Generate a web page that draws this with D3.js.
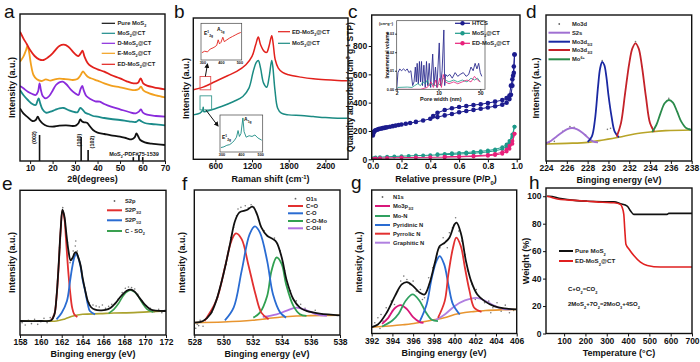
<!DOCTYPE html>
<html><head><meta charset="utf-8">
<script src="https://cdn.jsdelivr.net/npm/d3@7"></script>
<style>
body{margin:0;background:#fff}
svg{font-family:"Liberation Sans",Arial,sans-serif}
</style></head><body>
<svg id="fig" width="700" height="362"></svg>
<script>
// ---------- data (a) XRD ----------
const xrdPure = [[5.5,175],[7,160],[9,148],[11,137],[12.5,140],[13.4,150],[14.2,140],[15.5,130],[17.5,122],[20,120],[23,123],[26,124],[29,122],[30.5,124],[31.5,130],[32.3,142],[33,136],[34,133],[35.3,132],[36.5,122],[38,110],[40,102],[43,98],[46,94],[50,90],[53,85],[55,82],[56.5,88],[57.3,100],[58,92],[59,80],[61,73],[64,69],[67,67],[70,65]];
const xrdMoCT = [[5.5,230],[7,215],[9,200],[11,188],[12.5,185],[13.3,198],[13.8,205],[14.5,190],[15.5,172],[17,162],[19,165],[21,170],[23,175],[25,176],[27,170],[29,165],[31,163],[32.3,176],[33.2,172],[34.5,162],[36,158],[38,152],[40,150],[43,146],[46,143],[50,140],[54,136],[57,134],[58.5,140],[59.5,136],[61,131],[64,128],[67,126],[70,124]];
const xrdD = [[5.5,242],[7,235],[9,225],[11,218],[12.5,215],[13.5,225],[14.2,250],[14.8,230],[15.6,212],[17,205],[18.5,212],[20,228],[21.5,245],[23,253],[24.5,255],[26,248],[28,232],[30,220],[31.5,215],[32.4,232],[33.2,242],[33.9,228],[35,212],[37,202],[39,196],[41,195],[43,188],[46,180],[50,172],[54,164],[57,160],[58.5,166],[59.3,172],[60.2,162],[62,156],[66,152],[70,150]];
const xrdE = [[5.5,315],[7,330],[8.2,350],[8.8,362],[9.5,345],[10.3,310],[11.5,275],[13,262],[15,257],[17,262],[19,258],[21,262],[23,264],[25,263],[27,262],[29,260],[31,263],[32.5,275],[33.5,286],[34.5,278],[36,268],[38,263],[40,258],[43,250],[46,243],[50,238],[54,232],[57,230],[58.5,234],[59.3,240],[60.5,228],[63,220],[66,214],[70,208]];
const xrdED = [[5.5,405],[7,385],[8.5,368],[10,350],[12,332],[14,322],[16,320],[18,328],[20,340],[21.5,352],[23,362],[25,366],[27,360],[29,345],[30.5,335],[31.5,332],[32.5,340],[33.3,348],[34.2,330],[35.5,312],[37,302],[40,292],[43,285],[46,275],[50,265],[53,256],[56,250],[58,252],[59.2,265],[60.3,250],[62,243],[65,238],[70,232]];
const refPos = [14.2, 32.7, 35.8, 55.9, 58.4, 60.1];
const refInt = [100, 92, 42, 15, 23, 15];
const xrdNames = ['Pure MoS_{2}','MoS_{2}@CT','D-MoS_{2}@CT','E-MoS_{2}@CT','ED-MoS_{2}@CT'];

// ---------- data (b) Raman ----------
const ramanED = [[240,230],[400,238],[600,255],[800,272],[950,285],[1100,305],[1200,330],[1260,365],[1303,388],[1340,365],[1400,345],[1440,342],[1480,362],[1522,392],[1545,370],[1580,320],[1630,295],[1700,282],[1800,275],[2000,268],[2200,263],[2400,260],[2600,258],[2760,257]];
const ramanMo = [[240,155],[350,160],[395,170],[403,178],[412,165],[500,168],[700,180],[900,195],[1050,210],[1150,235],[1220,285],[1270,312],[1303,318],[1340,295],[1390,250],[1440,238],[1480,268],[1522,318],[1540,300],[1575,230],[1620,175],[1680,160],[1800,155],[2000,153],[2200,150],[2400,147],[2600,145],[2760,145]];
const insetRed = [[295,20],[310,24],[325,22],[340,30],[355,33],[365,36],[375,40],[383,55],[390,44],[398,48],[408,62],[416,50],[430,55],[445,60],[460,64],[475,68],[490,72],[505,75]];
const insetTeal = [[295,12],[310,14],[325,18],[340,20],[355,26],[365,32],[375,40],[383,58],[390,42],[398,50],[408,92],[414,55],[425,40],[440,44],[455,42],[470,46],[485,38],[505,32]];

// ---------- data (c) BET ----------
const htcsAds = [[0.001,168],[0.003,180],[0.006,190],[0.01,196],[0.015,201],[0.02,205],[0.03,209],[0.04,213],[0.05,216],[0.06,218],[0.07,220],[0.08,222],[0.09,224],[0.1,226],[0.12,230],[0.14,234],[0.16,238],[0.18,242],[0.2,246],[0.23,251],[0.26,256],[0.3,264],[0.35,274],[0.4,286],[0.45,298],[0.5,310],[0.55,320],[0.6,332],[0.65,341],[0.7,349],[0.75,357],[0.8,366],[0.85,375],[0.9,386],[0.93,400],[0.95,425],[0.96,455],[0.97,520],[0.98,610],[0.985,740]];
const htcsDes = [[0.985,740],[0.98,655],[0.975,590],[0.97,565],[0.96,520],[0.95,450],[0.93,432],[0.9,418],[0.85,407],[0.8,397],[0.75,389],[0.7,383],[0.65,376],[0.6,369],[0.55,360],[0.5,348],[0.45,328],[0.42,305]];
const moAds = [[0.005,8],[0.02,12],[0.05,15],[0.1,18],[0.15,20],[0.2,22],[0.25,24],[0.3,26],[0.35,27],[0.4,29],[0.45,31],[0.5,33],[0.55,35],[0.6,37],[0.65,40],[0.7,43],[0.75,47],[0.8,52],[0.85,60],[0.9,72],[0.93,90],[0.95,115],[0.97,160],[0.985,230]];
const moDes = [[0.985,230],[0.97,175],[0.95,130],[0.93,105],[0.9,85],[0.85,70],[0.8,62],[0.75,56],[0.7,52],[0.65,48],[0.6,45],[0.55,42],[0.5,38],[0.45,35]];
const edAds = [[0.005,3],[0.02,6],[0.05,8],[0.1,10],[0.2,12],[0.3,13],[0.4,14],[0.5,15],[0.6,17],[0.7,20],[0.8,25],[0.85,30],[0.9,40],[0.93,55],[0.95,75],[0.97,110],[0.985,180]];
const edDes = [[0.985,180],[0.97,130],[0.95,95],[0.93,70],[0.9,50],[0.85,38],[0.8,30],[0.7,24],[0.6,20],[0.5,18]];
const poreHTCS = [[2.0,0.000],[2.1,0.009],[2.25,0.011],[2.4,0.010],[2.6,0.011],[2.8,0.010],[3.0,0.011],[3.2,0.009],[3.45,0.010],[3.7,0.002],[3.9,0.004],[4.1,0.012],[4.25,0.004],[4.4,0.014],[4.6,0.003],[4.8,0.015],[5.0,0.004],[5.2,0.015],[5.4,0.002],[5.7,0.013],[6.0,0.001],[6.3,0.015],[6.6,0.002],[7.0,0.014],[7.4,0.001],[8.0,0.019],[8.4,0.002],[8.9,0.012],[9.4,0.001],[10.3,0.025],[10.8,0.002],[11.5,0.010],[12.3,0.032],[12.7,0.002],[13.2,0.008],[14,0.007],[15.5,0.008],[17,0.006],[19,0.009],[21,0.007],[23,0.008],[26,0.009],[29,0.007],[32,0.008],[35,0.012],[38,0.010],[41,0.014],[44,0.011],[47,0.014],[50,0.009],[53,0.007]];
const poreMo = [[2.0,0.000],[2.1,0.001],[3.0,0.0012],[3.6,0.001],[4.0,0.002],[4.5,0.003],[5.0,0.002],[5.5,0.004],[6.0,0.003],[6.5,0.005],[7.0,0.002],[8.0,0.003],[9.0,0.002],[10.0,0.003],[11.0,0.002],[12.0,0.006],[13,0.005],[15,0.004],[18,0.005],[21,0.004],[25,0.005],[30,0.004],[35,0.006],[40,0.005],[45,0.006],[50,0.004]];
const poreED = [[2.0,0],[3,0.0],[5,0.0],[6.5,0.001],[7.5,0.004],[8.2,0.001],[9.0,0.005],[9.6,0.001],[10.5,0.006],[11.2,0.001],[12.0,0.008],[13,0.004],[15,0.003],[18,0.004],[21,0.003],[25,0.004],[30,0.005],[35,0.004],[40,0.007],[45,0.005],[50,0.004]];

// ---------- data (d) Mo 3d ----------
const dBase = [[224,68],[226,70],[228,73],[229.5,80],[231,88],[232.5,98],[234,104],[235.5,108],[238,110]];
const dS2s = [[224,70],[224.5,78],[225,90],[225.5,102],[226,112],[226.5,116],[227,112],[227.5,102],[228,88],[228.5,76],[229,73]];
const dMo52 = [[228,74],[228.4,90],[228.7,140],[229,240],[229.2,295],[229.4,314],[229.6,305],[229.8,270],[230,215],[230.3,150],[230.6,105],[231,88]];
const dMo32 = [[230.8,90],[231.2,130],[231.6,220],[232,310],[232.3,355],[232.6,370],[232.9,355],[233.2,305],[233.6,210],[234,130],[234.4,105]];
const dMo6 = [[234.2,104],[234.6,125],[235,160],[235.4,190],[235.8,200],[236.2,192],[236.6,165],[237,135],[237.5,115],[238,110]];
const dDots = [[224.3,72],[224.8,76],[225.6,106],[226.3,120],[226.7,118],[227.8,95],[228.2,82],[229.4,318],[229.9,112],[230.2,115],[232.6,375],[234.2,118],[235.8,205],[237.8,113]];

// ---------- data (e) S 2p ----------
const eBase = [[158,80],[160,80],[161.5,80],[162.3,86],[163.1,95],[164,100],[165.7,102],[167,104],[168.9,105],[170.5,108],[172,110]];
const eS32 = [[161,82],[161.3,100],[161.5,150],[161.7,240],[161.9,350],[162.07,412],[162.25,390],[162.4,330],[162.6,240],[162.8,170],[163.0,120],[163.2,100],[163.5,92]];
const eS12 = [[161.5,85],[162.0,105],[162.5,140],[162.8,200],[163.0,240],[163.2,270],[163.38,282],[163.55,272],[163.8,245],[164.0,205],[164.25,170],[164.5,130],[164.7,110],[165.2,100]];
const eCSO = [[166.5,103],[167,115],[167.5,135],[168,160],[168.6,172],[169.2,160],[169.7,135],[170.2,115],[170.8,106]];
const eFit = [[158,80],[160,80],[161,82],[161.3,100],[161.5,152],[161.7,245],[161.9,355],[162.07,414],[162.25,395],[162.45,340],[162.65,290],[162.85,262],[163.05,270],[163.25,284],[163.4,286],[163.6,270],[163.8,248],[164.0,210],[164.25,172],[164.5,140],[164.8,122],[165.2,114],[165.7,112],[166.2,113],[166.7,120],[167.2,135],[167.7,155],[168.2,170],[168.6,174],[169.0,168],[169.5,148],[170,128],[170.5,115],[171,111],[172,110]];
const eDots = [[158.2,75],[158.5,68],[158.8,82],[159.1,72],[159.4,85],[159.7,70],[160,78],[160.3,88],[160.6,75],[160.9,90],[161.2,95],[161.6,200],[161.8,300],[162.0,405],[162.1,420],[162.3,380],[162.55,315],[162.8,255],[163.1,290],[163.3,305],[163.35,320],[163.5,290],[163.9,230],[164.2,180],[164.6,135],[165,128],[165.3,125],[165.6,122],[165.9,128],[166.2,118],[166.5,124],[166.8,130],[167.1,132],[167.4,145],[167.8,165],[168.1,178],[168.4,182],[168.7,180],[169,176],[169.3,160],[169.7,140],[170.1,125],[170.5,118],[170.9,108],[171.3,115],[171.6,105],[171.9,112]];

// ---------- data (f) O 1s ----------
const fBase = [[528,75],[530,77],[532,82],[533,87],[534,92],[535,95],[536,96],[538,97]];
const fCO2 = [[528.7,80],[529.5,140],[530.1,240],[530.55,320],[530.86,342],[531.25,325],[531.7,250],[532.2,160],[532.6,105],[533.1,85]];
const fCO = [[530.1,82],[530.7,120],[531.25,230],[531.8,340],[532.16,363],[532.5,345],[533,260],[533.4,160],[533.9,105],[534.3,90]];
const fCOMo = [[532.05,90],[532.5,105],[533,155],[533.3,230],[533.65,270],[534,250],[534.3,190],[534.8,125],[535.25,100],[535.7,95]];
const fCOH = [[532.7,92],[533.65,100],[534.3,110],[535,120],[535.7,112],[536.4,100],[537.1,95]];
const fFit = [[528,75],[528.6,80],[529.1,100],[529.5,140],[530,220],[530.45,310],[530.8,380],[531.1,405],[531.6,412],[532,422],[532.3,400],[532.6,360],[533,335],[533.4,325],[533.65,315],[534,270],[534.35,200],[534.8,145],[535.25,120],[535.7,110],[536.6,102],[538,97]];
const fDots = [[528.1,58],[528.2,70],[528.3,66],[528.4,82],[528.6,64],[528.9,90],[529.2,105],[529.6,150],[529.9,200],[530.2,250],[530.5,330],[530.7,360],[530.9,395],[531.0,415],[531.2,420],[531.4,410],[531.5,425],[531.7,418],[531.9,428],[532.1,420],[532.4,385],[532.8,350],[533.2,330],[533.5,328],[533.9,290],[534.2,230],[534.6,170],[535,140],[535.3,130],[535.6,118],[536,108],[536.3,112],[536.8,100],[537.3,98],[537.8,96]];

// ---------- data (g) N 1s ----------
const gBase = [[392,62],[393,64],[394,66],[395,69],[395.85,72],[397,78],[398,84],[399,90],[400,100],[401,106],[401.6,108],[403,112],[404.5,114],[406,115]];
const gMo3p = [[393,72],[393.6,90],[394.2,118],[394.8,128],[395.4,116],[396,92],[396.6,78],[397,75]];
const gMoN = [[393,64],[394,82],[394.6,102],[395.3,142],[395.95,160],[396.6,142],[397.2,108],[397.8,84],[398.4,80]];
const gPyd = [[396.65,80],[397.3,130],[397.8,210],[398.25,260],[398.57,275],[399,250],[399.4,190],[399.85,130],[400.5,100]];
const gPyr = [[398.4,90],[399.05,140],[399.4,220],[399.85,300],[400.17,330],[400.6,305],[401,240],[401.45,170],[401.9,120],[402.6,108]];
const gGra = [[398.1,82],[399.05,100],[400,125],[401,142],[402.1,150],[402.9,142],[403.7,128],[404.65,117],[405.5,115]];
const gFit = [[392,62],[392.6,70],[393.44,105],[394.24,155],[394.9,190],[395.4,197],[396,185],[396.65,165],[397.1,160],[397.6,195],[398.1,255],[398.57,305],[399.05,315],[399.5,330],[400,370],[400.2,375],[400.64,340],[401.1,260],[401.6,200],[402.2,160],[402.9,140],[403.8,125],[404.8,118],[406,115]];
const gDots = [[392.3,75],[392.6,90],[392.8,58],[392.9,100],[393.1,80],[393.3,70],[393.4,120],[393.7,95],[393.9,140],[394.0,110],[394.2,130],[394.5,170],[394.8,200],[395.1,215],[395.4,205],[395.7,190],[396,200],[396.3,170],[396.7,175],[396.9,145],[397.1,150],[397.5,210],[397.9,240],[398.3,280],[398.6,300],[398.9,330],[399.2,320],[399.3,300],[399.5,345],[399.8,360],[400.1,390],[400.4,350],[400.7,320],[401,280],[401.3,230],[401.7,190],[402.0,145],[402.1,175],[402.5,150],[402.9,135],[403.3,140],[403.5,105],[403.7,120],[404.1,135],[404.5,110],[404.9,128],[405.3,105],[405.7,112]];

// ---------- data (h) TGA ----------
const tgaPure = [[20,100],[30,100],[84,98.3],[150,97],[209,96.4],[280,96],[334,95.9],[365,94.5],[396,92.8],[412,89.2],[427,86.8],[505,86.8],[583,86.8],[591,87.5],[700,87.5]];
const tgaED = [[20,100],[30,99.6],[84,97.6],[150,97],[209,96.4],[280,95.6],[334,95.2],[365,94],[373,91.6],[380,86.8],[385,74.8],[390,65],[404,61.6],[427,56.8],[458,52],[490,49.6],[552,48.4],[700,48.4]];

// ---------- helpers ----------
const svg = d3.select('#fig');
let clipN = 0;
const TICK_FS = 8.5, TITLE_FS = 9;

function rich(sel, str) {
  str.split(/(_\{[^}]*\}|\^\{[^}]*\})/).forEach(p => {
    if (!p) return;
    if (p.startsWith('_{')) sel.append('tspan').attr('baseline-shift', 'sub').attr('font-size', '65%').text(p.slice(2, -1));
    else if (p.startsWith('^{')) sel.append('tspan').attr('baseline-shift', 'super').attr('font-size', '65%').text(p.slice(2, -1));
    else sel.append('tspan').text(p);
  });
  return sel;
}

function makePanel(box, xd, yd, log) {
  const [x0, y0, x1, y1] = box;
  const x = (log ? d3.scaleLog() : d3.scaleLinear()).domain(xd).range([x0, x1]);
  const y = d3.scaleLinear().domain(yd).range([y1, y0]);
  const id = 'clip' + (clipN++);
  svg.append('clipPath').attr('id', id).append('rect')
    .attr('x', x0).attr('y', y0).attr('width', x1 - x0).attr('height', y1 - y0);
  const g = svg.append('g');
  const plot = g.append('g').attr('clip-path', `url(#${id})`);
  return {x, y, g, plot, box};
}

function styleAxis(ax, fs) {
  ax.select('.domain').remove();
  ax.attr('font-family', null).attr('font-size', null);
  ax.selectAll('text').attr('font-size', fs).attr('font-weight', 'bold').attr('fill', '#111');
  ax.selectAll('line').attr('stroke', '#111');
}

function axes(p, xTicks, yTicks, fmtX, fmtY) {
  const [x0, y0, x1, y1] = p.box;
  const ax = p.g.append('g').attr('transform', `translate(0,${y1})`)
    .call(d3.axisBottom(p.x).tickValues(xTicks).tickSize(3).tickPadding(1).tickFormat(fmtX || (d => d)));
  styleAxis(ax, TICK_FS);
  if (yTicks) {
    const ay = p.g.append('g').attr('transform', `translate(${x0},0)`)
      .call(d3.axisLeft(p.y).tickValues(yTicks).tickSize(3).tickPadding(1.5).tickFormat(fmtY || (d => d)));
    styleAxis(ay, TICK_FS);
  }
  p.g.append('rect').attr('x', x0).attr('y', y0).attr('width', x1 - x0).attr('height', y1 - y0)
    .attr('fill', 'none').attr('stroke', '#111').attr('stroke-width', 1.4);
}

function line(p, data, color, w, crv) {
  return p.plot.append('path').datum(data)
    .attr('fill', 'none').attr('stroke', color).attr('stroke-width', w)
    .attr('stroke-linejoin', 'round')
    .attr('d', d3.line().x(d => p.x(d[0])).y(d => p.y(d[1])).curve(crv || d3.curveCatmullRom.alpha(0.5)));
}

function dots(p, data, color, r) {
  p.plot.append('g').selectAll('circle').data(data).join('circle')
    .attr('cx', d => p.x(d[0])).attr('cy', d => p.y(d[1])).attr('r', r).attr('fill', color);
}

function legend(items, lx0, lx1, tx, ys, fs) {
  const g = svg.append('g');
  items.forEach((it, i) => {
    const y = ys[i];
    if (it.dot) {
      g.append('circle').attr('cx', (lx0 + lx1) / 2).attr('cy', y).attr('r', 0.9).attr('fill', '#666');
    } else {
      g.append('line').attr('x1', lx0).attr('x2', lx1).attr('y1', y).attr('y2', y)
        .attr('stroke', it.c).attr('stroke-width', it.w || 2);
      if (it.m) g.append('circle').attr('cx', (lx0 + lx1) / 2).attr('cy', y).attr('r', 2.2).attr('fill', it.c);
    }
    rich(g.append('text').attr('x', tx).attr('y', y + fs * 0.35).attr('font-size', fs)
      .attr('font-weight', 'bold').attr('fill', '#222'), it.t);
  });
}

function text(x, y, str, fs, opts = {}) {
  const t = svg.append('text').attr('x', x).attr('y', y).attr('font-size', fs)
    .attr('font-weight', opts.weight || 'bold').attr('fill', opts.fill || '#111')
    .attr('text-anchor', opts.anchor || 'middle');
  if (opts.rot) t.attr('transform', `rotate(${opts.rot},${x},${y})`);
  return rich(t, str);
}

function letter(x, y, s) {
  svg.append('text').attr('x', x).attr('y', y).attr('font-size', 19).attr('fill', '#111').text(s);
}

const steps = (a, b, s) => d3.range(a, b + s / 2, s);

// ---------- (a) ----------
const pa = makePanel([20, 14, 165, 161], [5.5, 70], [17, 458]);
const refY = d3.scaleLinear().domain([0, 100]).range([161, 135]);
pa.plot.append('g').selectAll('line').data(refPos.map((p, i) => [p, refInt[i]])).join('line')
  .attr('x1', d => pa.x(d[0])).attr('x2', d => pa.x(d[0]))
  .attr('y1', refY(0)).attr('y2', d => refY(d[1])).attr('stroke', '#111').attr('stroke-width', 1.6);
line(pa, xrdPure, '#111', 1.8);
line(pa, xrdMoCT, '#1b8b8a', 1.8);
line(pa, xrdD, '#8a2bdc', 1.8);
line(pa, xrdE, '#f2a01e', 1.8);
line(pa, xrdED, '#e2211c', 1.8);
axes(pa, steps(10, 70, 10));
text(36, 137.5, '(002)', 5.5, {rot: -90});
text(80.5, 140, '(100)', 5.5, {rot: -90});
text(94, 142, '(102)', 5.5, {rot: -90});
text(134, 155.5, 'MoS_{2}-PDF#75-1539', 5.5);
legend(xrdNames.map((t, i) => ({t, c: ['#111', '#1b8b8a', '#8a2bdc', '#f2a01e', '#e2211c'][i], w: 1.2})),
  101.7, 115, 117.5, [23.3, 33.3, 43.3, 53.3, 64.3], 5.8);
text(15, 87.5, 'Intensity (a.u.)', TITLE_FS, {rot: -90});
text(92.5, 182, '2θ(degrees)', TITLE_FS);
letter(4, 18, 'a');

// ---------- (b) ----------
const pb = makePanel([193.3, 18, 348, 159.3], [240, 2770], [22, 445]);
line(pb, ramanED, '#e2211c', 1.5);
line(pb, ramanMo, '#1b8b83', 1.5);
const boxes = [[350, 525, 230, 270, '#e05050'], [350, 540, 170, 212, '#3a9a90']];
boxes.forEach(b => pb.plot.append('rect').attr('x', pb.x(b[0])).attr('y', pb.y(b[3]))
  .attr('width', pb.x(b[1]) - pb.x(b[0])).attr('height', pb.y(b[2]) - pb.y(b[3]))
  .attr('fill', 'none').attr('stroke', b[4]).attr('stroke-width', 0.9));
svg.append('defs').append('marker').attr('id', 'arr').attr('viewBox', '0 0 10 10').attr('refX', 8).attr('refY', 5)
  .attr('markerWidth', 5).attr('markerHeight', 5).attr('orient', 'auto')
  .append('path').attr('d', 'M0,0L10,5L0,10z').attr('fill', '#111');
svg.append('line').attr('x1', pb.x(437)).attr('y1', pb.y(270)).attr('x2', 207.5).attr('y2', 64)
  .attr('stroke', '#111').attr('stroke-width', 1).attr('marker-end', 'url(#arr)');
svg.append('line').attr('x1', pb.x(445)).attr('y1', pb.y(170)).attr('x2', 218).attr('y2', 126)
  .attr('stroke', '#111').attr('stroke-width', 1).attr('marker-end', 'url(#arr)');

function ramanInset(box, data, color, eLab, aLab) {
  const p = makePanel(box, [290, 510], [0, 100]);
  p.g.insert('rect', ':first-child').attr('x', box[0]).attr('y', box[1])
    .attr('width', box[2] - box[0]).attr('height', box[3] - box[1]).attr('fill', '#fff');
  line(p, data, color, 0.9, d3.curveLinear);
  p.g.append('rect').attr('x', box[0]).attr('y', box[1]).attr('width', box[2] - box[0]).attr('height', box[3] - box[1])
    .attr('fill', 'none').attr('stroke', '#444').attr('stroke-width', 0.7);
  [300, 400, 500].forEach(v => text(p.x(v), box[3] + 4.2, String(v), 3.8));
  text(eLab[0], eLab[1], 'E^{1}_{2g}', 5, {anchor: 'start'});
  text(aLab[0], aLab[1], 'A_{1g}', 5, {anchor: 'start'});
}
ramanInset([201, 23.3, 241.7, 60], insetRed, '#e2211c', [204, 35], [217, 31]);
ramanInset([220, 115, 262.7, 152], insetTeal, '#1b8b83', [222, 139], [244, 121]);
axes(pb, [600, 1200, 1800, 2400]);
legend([{t: 'ED-MoS_{2}@CT', c: '#e2211c', w: 1.2}, {t: 'MoS_{2}@CT', c: '#1b8b83', w: 1.2}],
  278, 290, 292, [31.7, 43.3], 5.8);
text(188.5, 88.5, 'Intensity (a.u.)', TITLE_FS, {rot: -90});
text(270.5, 182, 'Raman shift (cm^{-1})', TITLE_FS);
letter(174, 18, 'b');

// ---------- (c) ----------
const pc = makePanel([371.7, 15, 520, 159.3], [-0.007, 1.023], [0, 1019]);
function iso(data, color, r) {
  line(pc, data, color, 1, d3.curveLinear);
  dots(pc, data, color, r);
}
iso(htcsAds, '#1c1c8e', 2.3); iso(htcsDes, '#1c1c8e', 2.3);
iso(moAds, '#1e9a8a', 2); iso(moDes, '#1e9a8a', 2);
iso(edAds, '#e8207a', 2); iso(edDes, '#e8207a', 2);
axes(pc, steps(0, 1, 0.2), [0, 200, 400, 600, 800], d3.format('.1f'));
// inset: pore size distribution
const pi = makePanel([396.7, 20.7, 485, 89.3], [2, 60], [0, 0.037], true);
pi.g.insert('rect', ':first-child').attr('x', 396.7).attr('y', 20.7).attr('width', 88.3).attr('height', 68.6).attr('fill', '#fff');
line(pi, poreHTCS, '#2e2e90', 0.9, d3.curveLinear);
line(pi, poreMo, '#1e9a8a', 0.8, d3.curveLinear);
line(pi, poreED, '#e8207a', 0.8, d3.curveLinear);
pi.g.append('rect').attr('x', 396.7).attr('y', 20.7).attr('width', 88.3).attr('height', 68.6)
  .attr('fill', 'none').attr('stroke', '#444').attr('stroke-width', 0.7);
const iax = pi.g.append('g').attr('transform', 'translate(0,89.3)')
  .call(d3.axisBottom(pi.x).tickValues([2, 10, 50]).tickSize(1.5).tickPadding(1).tickFormat(d => d));
styleAxis(iax, 5);
const iay = pi.g.append('g').attr('transform', 'translate(396.7,0)')
  .call(d3.axisLeft(pi.y).tickValues([0, 0.01, 0.02, 0.03]).tickSize(1.5).tickPadding(1).tickFormat(d3.format('.2f')));
styleAxis(iay, 3.8);
text(440.8, 101, 'Pore width (nm)', 5.5);
text(388.5, 55, 'Incremental volume', 5, {rot: -90});
text(386, 25, '(cm^{3}g^{-1})', 3.8);
legend([{t: 'HTCS', c: '#1c1c8e', m: 1, w: 1.2}, {t: 'MoS_{2}@CT', c: '#1e9a8a', m: 1, w: 1.2}, {t: 'ED-MoS_{2}@CT', c: '#e8207a', m: 1, w: 1.2}],
  455, 470, 472, [23.3, 33.3, 43.3], 5.8);
text(353, 87, 'Quantity adsorbed (cm^{3} g^{-1} STP)', 8.5, {rot: -90});
text(446, 182, 'Relative pressure (P/P_{0})', TITLE_FS);
letter(348, 18, 'c');

// ---------- (d) ----------
const pd = makePanel([546, 15, 691.7, 161], [224, 238], [17, 455]);
dots(pd, dDots, '#777', 0.8);
line(pd, dBase, '#b8a428', 1.6);
line(pd, dS2s, '#a070d2', 1.8);
line(pd, dMo52, '#1a28a2', 1.8);
line(pd, dMo32, '#c42229', 1.8);
line(pd, dMo6, '#2a8a4a', 1.8);
axes(pd, steps(224, 238, 2));
legend([{t: 'Mo3d', dot: 1}, {t: 'S2s', c: '#a070d2'}, {t: 'Mo3d_{5/2}', c: '#1a28a2'}, {t: 'Mo3d_{3/2}', c: '#c42229'}, {t: 'Mo^{6+}', c: '#2a8a4a'}],
  548.5, 570, 572, [24, 32.7, 41.7, 50, 59.3], 5.8);
text(538.5, 88, 'Intensity (a.u.)', TITLE_FS, {rot: -90});
text(619, 182.5, 'Binging energy (eV)', TITLE_FS);
letter(526, 18, 'd');

// ---------- (e) ----------
const pe = makePanel([20, 190.3, 166, 335], [158, 172], [38, 472]);
dots(pe, eDots, '#777', 0.8);
line(pe, eBase, '#aaa22e', 1.6);
line(pe, eCSO, '#3aa050', 1.6);
line(pe, eS32, '#e23030', 1.8);
line(pe, eS12, '#2a6cd2', 1.8);
line(pe, eFit, '#111', 1.8);
axes(pe, steps(158, 172, 2));
legend([{t: 'S2p', dot: 1}, {t: 'S2P_{3/2}', c: '#e23030'}, {t: 'S2P_{1/2}', c: '#2a6cd2'}, {t: 'C - SO_{2}', c: '#3aa050'}],
  107, 122, 125, [201, 210.3, 220.3, 231], 5.8);
text(15, 262.5, 'Intensity (a.u.)', TITLE_FS, {rot: -90});
text(93, 356.5, 'Binging energy (eV)', TITLE_FS);
letter(2, 190, 'e');

// ---------- (f) ----------
const pf = makePanel([194.3, 190, 340, 335], [528, 538], [38, 472]);
dots(pf, fDots, '#777', 0.8);
line(pf, fBase, '#e89530', 1.6);
line(pf, fCOH, '#b070e0', 1.8);
line(pf, fCOMo, '#30a050', 1.8);
line(pf, fCO2, '#e23030', 1.8);
line(pf, fCO, '#2a6cd2', 1.8);
line(pf, fFit, '#111', 1.8);
axes(pf, steps(528, 538, 2));
legend([{t: 'O1s', dot: 1}, {t: 'C=O', c: '#e23030'}, {t: 'C-O', c: '#2a6cd2'}, {t: 'C-O-Mo', c: '#30a050'}, {t: 'C-OH', c: '#b070e0'}],
  288, 303, 306, [198.7, 206, 213.3, 221, 228.3], 5.8);
text(185, 262.5, 'Intensity (a.u.)', TITLE_FS, {rot: -90});
text(267, 356.5, 'Binging energy (eV)', TITLE_FS);
letter(182, 190, 'f');

// ---------- (g) ----------
const pg = makePanel([371.7, 190, 516.7, 333.5], [392, 406], [43, 473]);
dots(pg, gDots, '#777', 0.8);
line(pg, gBase, '#e89530', 1.6);
line(pg, gGra, '#b080e0', 1.8);
line(pg, gMo3p, '#d8187a', 1.8);
line(pg, gMoN, '#30a060', 1.8);
line(pg, gPyd, '#2a6cd2', 1.8);
line(pg, gPyr, '#e23030', 1.8);
line(pg, gFit, '#111', 1.8);
axes(pg, steps(392, 406, 2));
legend([{t: 'N1s', dot: 1}, {t: 'Mo3p_{3/2}', c: '#d8187a'}, {t: 'Mo-N', c: '#30a060'}, {t: 'Pyridinic N', c: '#2a6cd2'}, {t: 'Pyrrolic N', c: '#e23030'}, {t: 'Graphitic N', c: '#b080e0'}],
  375, 390, 393, [197, 206, 216, 225, 233.7, 242.7], 5.8);
text(361.5, 262, 'Intensity (a.u.)', TITLE_FS, {rot: -90});
text(444, 355.5, 'Binging energy (eV)', TITLE_FS);
letter(351, 189, 'g');

// ---------- (h) ----------
const ph = makePanel([546, 188, 692, 333.5], [15, 700], [0, 106]);
line(ph, tgaPure, '#111', 1.6, d3.curveMonotoneX);
line(ph, tgaED, '#e02020', 1.6, d3.curveMonotoneX);
axes(ph, steps(100, 700, 100), steps(0, 100, 20));
legend([{t: 'Pure MoS_{2}', c: '#111'}, {t: 'ED-MoS_{2}@CT', c: '#e02020'}],
  559, 573, 575, [251, 261], 6.2);
text(568, 291, 'C+O_{2}=CO_{2}', 6, {anchor: 'start'});
text(568, 306, '2MoS_{2}+7O_{2}=2MoO_{3}+4SO_{2}', 6, {anchor: 'start'});
text(529, 261, 'Weight (%)', TITLE_FS, {rot: -90});
text(619, 355.5, 'Temperature (°C)', TITLE_FS);
letter(529, 189, 'h');
</script>
</body></html>
